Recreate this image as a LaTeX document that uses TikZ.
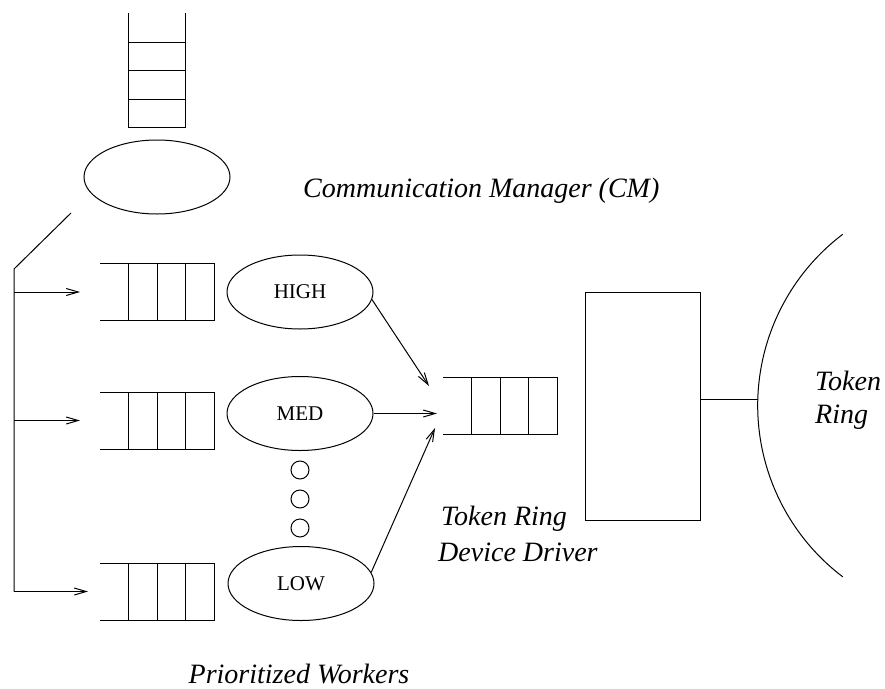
\documentclass[tikz,border=0pt]{standalone}
\usepackage{fontspec}
\setmainfont{Liberation Serif}
\usetikzlibrary{arrows.meta,shapes.geometric}
\begin{document}
\begin{tikzpicture}[x=1pt,y=-1pt,
  ln/.style={line width=1pt,line cap=butt,line join=miter},
  arr/.style={ln,-{Straight Barb[length=12pt,width=7pt,line width=1pt]}},
  wk/.style={ln,draw,ellipse,inner sep=0pt,minimum width=146pt,minimum height=74pt,font=\fontsize{21}{25}\selectfont},
  lab/.style={inner sep=0pt,font=\fontsize{28}{37}\selectfont\itshape},
  hq/.pic={\draw[ln] (0,0) -- (114,0) -- (114,57) -- (0,57);
           \draw[ln] (28.5,0) -- (28.5,57) (57,0) -- (57,57) (85.5,0) -- (85.5,57);}]
\useasboundingbox (0,0) rectangle (885,688);
% communication manager
\draw[ln] (128,13) -- (128,127) -- (185,127) -- (185,13);
\draw[ln] (128,42) -- (185,42) (128,70) -- (185,70) (128,99) -- (185,99);
\node[wk] (cm) at (157,177) {};
\node[lab,anchor=base west] (cmlab) at (303,197) {Communication Manager (CM)};
% distribution line
\coordinate (d0) at (71,213);
\coordinate (d1) at (14,269);
\coordinate (d2) at (14,292);
\coordinate (d3) at (14,420.5);
\coordinate (d4) at (14,591.5);
\coordinate (t1) at (80,292);
\coordinate (t2) at (80,420.5);
\coordinate (t3) at (88,591.5);
\draw[ln] (d0) -- (d1) -- (d4);
\draw[arr] (d2) -- (t1);
\draw[arr] (d3) -- (t2);
\draw[arr] (d4) -- (t3);
% worker queues
\pic at (100,263.5) {hq};
\pic at (100,392.5) {hq};
\pic at (100,563) {hq};
% workers
\node[wk] (high) at (300,292) {HIGH};
\node[wk] (med) at (300,413.5) {MED};
\node[wk] (low) at (301,583.5) {LOW};
\draw[ln] (300,470) circle[radius=9];
\draw[ln] (300,499) circle[radius=9];
\draw[ln] (300,528) circle[radius=9];
\node[lab,anchor=base,text depth=0pt] (pw) at (299,683) {Prioritized Workers};
% device driver queue
\pic at (443.3,377.7) {hq};
\coordinate (e1) at (429,386);
\coordinate (e2) at (437,413.5);
\coordinate (e3) at (435,428);
\draw[arr] (high.-6) -- (e1);
\draw[arr] (med.east) -- (e2);
\draw[arr] (low.9) -- (e3);
\node[lab,anchor=base west] (tr1) at (441,525) {Token Ring};
\node[lab,anchor=base west] (tr2) at (438,561.5) {Device Driver};
% adapter and ring
\node[ln,draw,rectangle,inner sep=0pt,minimum width=114.3pt,minimum height=228.3pt] (box) at (642.85,406.15) {};
\coordinate (ringpt) at (757.8,399);
\draw[ln] (box.east |- ringpt) -- (ringpt);
\draw[ln] (842.7,234.3) arc[start angle=232.8,end angle=127.2,radius=215];
\node[lab,anchor=base west] (rg1) at (815,390) {Token};
\node[lab,anchor=base west] (rg2) at (815,423) {Ring};
\end{tikzpicture}
\end{document}
